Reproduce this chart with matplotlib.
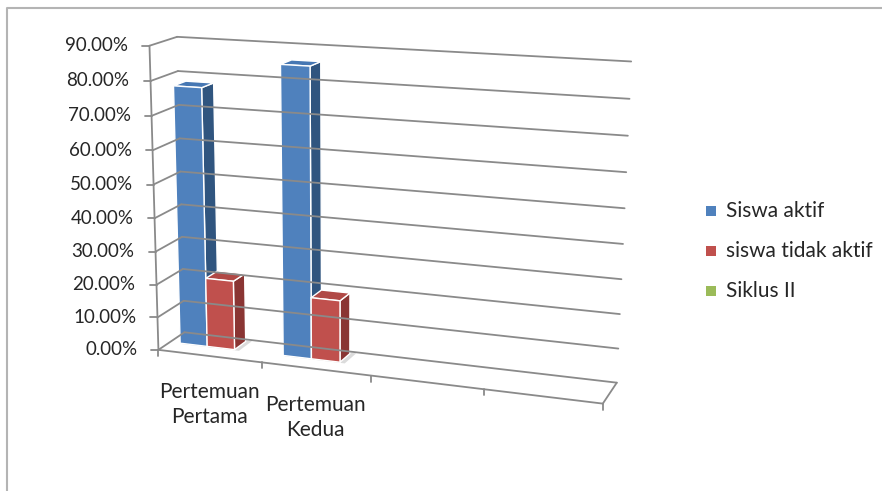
import matplotlib.pyplot as plt
import numpy as np
from matplotlib.patches import Polygon

plt.rcParams["font.family"] = ["Lato", "DejaVu Sans"]

# data
categories = ["Pertemuan\nPertama", "Pertemuan\nKedua", "", ""]
siswa_aktif = [0.775, 0.855, None, None]
siswa_tidak_aktif = [0.21, 0.185, None, None]
siklus_ii = [None, None, None, None]
series_names = ["Siswa aktif", "siswa tidak aktif", "Siklus II"]
value_ticks = [0.0, 0.1, 0.2, 0.3, 0.4, 0.5, 0.6, 0.7, 0.8, 0.9]

# face colours (front, side, top) for each series
palette = [
    ("#4F81BD", "#30557F", "#4677B3"),
    ("#C0504D", "#8A3533", "#B04845"),
    ("#9BBB59", "#6E8A3A", "#8EAD50"),
]
GRID = "#8A8A8A"
TEXT = "#262626"
TICK_FONT = 13.5
LABEL_FONT = 15

n_slots = len(categories)
v_max = value_ticks[-1]

# box corners as (slot, value, depth) and where they sit on the canvas
ref_world = np.array([
    (0, 0.9, 0), (0, 0.0, 0), (4, 0.0, 0), (0, 0.0, 1), (4, 0.0, 1),
    (0, 0.9, 1), (4, 0.9, 1), (1, 0.0, 0), (2, 0.0, 0), (3, 0.0, 0),
    (0, 0.5, 0), (4, 0.8, 1), (4, 0.2, 1),
], dtype=float)
ref_pixel = np.array([
    (148, 46), (160, 349), (603, 405), (183, 334), (617, 381),
    (178, 37), (631, 62), (263, 362), (370, 376), (483, 390),
    (154, 183), (630, 99), (620, 313),
], dtype=float)

SCALE = np.array([n_slots, v_max, 1.0])
CENTER = np.array([441.0, 245.0])


def fit_camera(world, pixel):
    """Least-squares 3x4 projection from point pairs (DLT)."""
    world = world / SCALE
    pixel = (pixel - CENTER) / 300.0
    rows = []
    for (x, y, z), (u, v) in zip(world, pixel):
        pt = [x, y, z, 1.0]
        rows.append(pt + [0.0] * 4 + [-u * c for c in pt])
        rows.append([0.0] * 4 + pt + [-v * c for c in pt])
    _, _, vt = np.linalg.svd(np.array(rows))
    return vt[-1].reshape(3, 4)


CAM = fit_camera(ref_world, ref_pixel)


def project(pts):
    pts = np.atleast_2d(np.asarray(pts, dtype=float)) / SCALE
    h = np.c_[pts, np.ones(len(pts))] @ CAM.T
    return h[:, :2] / h[:, 2:] * 300.0 + CENTER


def line3d(ax, a, b, **kw):
    p = project([a, b])
    ax.plot(p[:, 0], p[:, 1], **kw)


fig = plt.figure(figsize=(8.82, 4.91), dpi=100)
ax = fig.add_axes([0, 0, 1, 1])
ax.set_xlim(0, 882)
ax.set_ylim(491, 0)
ax.axis("off")

# chart area border
ax.plot([7, 7, 882], [491, 8, 8], color="#B4B4B4", lw=1.5, solid_capstyle="butt")

grid_kw = dict(color=GRID, lw=1.3, solid_capstyle="round")

# side wall + back wall gridlines, value ticks and labels
for v in value_ticks:
    line3d(ax, (0, v, 0), (0, v, 1), **grid_kw)
    line3d(ax, (0, v, 1), (n_slots, v, 1), **grid_kw)
    x, y = project((0, v, 0))[0]
    ax.plot([x - 7, x], [y, y], **grid_kw)
    ax.text(x - 21, y, f"{v * 100:.2f}%", ha="right", va="center",
            fontsize=TICK_FONT, color=TEXT)

# value axis and floor outline
line3d(ax, (0, 0, 0), (0, v_max, 0), **grid_kw)
line3d(ax, (0, 0, 0), (n_slots, 0, 0), **grid_kw)
line3d(ax, (n_slots, 0, 0), (n_slots, 0, 1), **grid_kw)

# category ticks and labels
for i in range(n_slots + 1):
    x, y = project((i, 0, 0))[0]
    ax.plot([x, x], [y, y + 6], **grid_kw)
for i, label in enumerate(categories):
    if not label:
        continue
    x, y = project((i + 0.5, 0, 0))[0]
    ax.text(x, y + 26, label, ha="center", va="top", fontsize=LABEL_FONT,
            color=TEXT, linespacing=1.3)

# clustered 3-D columns, gap width 75%
series = [siswa_aktif, siswa_tidak_aktif, siklus_ii]
n_series = len(series)
gap = 0.75
bar_w = 1.0 / (n_series + gap)
w0, w1 = 0.44, 0.90


def draw_column(ax, u0, u1, val, colors):
    front, side, top = colors
    faces = [
        (side, [(u1, 0, w0), (u1, 0, w1), (u1, val, w1), (u1, val, w0)]),
        (top, [(u0, val, w0), (u1, val, w0), (u1, val, w1), (u0, val, w1)]),
        (front, [(u0, 0, w0), (u1, 0, w0), (u1, val, w0), (u0, val, w0)]),
    ]
    for color, quad in faces:
        ax.add_patch(Polygon(project(quad), closed=True, facecolor=color,
                             edgecolor="white", lw=1.0, joinstyle="round"))


for i in range(n_slots):
    for s, values in enumerate(series):
        val = values[i]
        if val is None:
            continue
        u0 = i + gap / 2 * bar_w + s * bar_w
        u1 = u0 + bar_w
        # soft floor shadow
        shadow = project([(u0 + 0.02, 0, w0 - 0.03), (u1 + 0.05, 0, w0 - 0.03),
                          (u1 + 0.05, 0, min(w1 + 0.05, 1.0)),
                          (u0 + 0.02, 0, min(w1 + 0.05, 1.0))])
        ax.add_patch(Polygon(shadow, closed=True, facecolor="#9A9A9A",
                             edgecolor="none", alpha=0.35))
        draw_column(ax, u0, u1, val, palette[s])

# legend
for k, name in enumerate(series_names):
    y = 211 + k * 40
    ax.add_patch(Polygon([(706, y - 5), (716, y - 5), (716, y + 5), (706, y + 5)],
                         closed=True, facecolor=palette[k][0], edgecolor="none"))
    ax.text(726, y, name, ha="left", va="center", fontsize=LABEL_FONT, color=TEXT)

fig.savefig("out.png", dpi=100)
